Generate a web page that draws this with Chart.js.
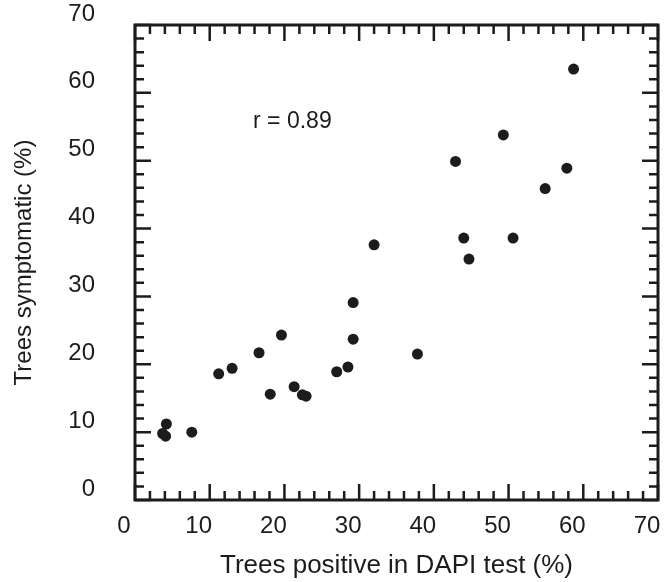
<!DOCTYPE html>
<html>
<head>
<meta charset="utf-8">
<script src="https://cdn.jsdelivr.net/npm/chart.js@4.4.1/dist/chart.umd.min.js"></script>
<style>
  html, body { margin: 0; padding: 0; background: #fff; }
  #wrap { width: 665px; height: 582px; }
</style>
</head>
<body>
<div id="wrap"><canvas id="plot"></canvas></div>
<script>
// % trees positive in DAPI test vs % trees showing symptoms
const dapiPositive = [4.2, 3.7, 4.1, 7.6, 11.2, 13.0, 16.6, 19.6, 18.1, 21.3, 22.4, 22.9, 27.0,
  28.5, 29.2, 29.2, 32.0, 37.8, 42.9, 44.0, 44.7, 49.3, 50.6, 54.9, 57.8, 58.7];
const symptomatic = [11.2, 9.8, 9.4, 10.0, 18.6, 19.4, 21.7, 24.3, 15.6, 16.7, 15.5, 15.3, 18.9,
  19.6, 23.7, 29.1, 37.6, 21.5, 49.9, 38.6, 35.5, 53.8, 38.6, 45.9, 48.9, 63.5];

const axisMin = 0;
const axisMax = 70;
const labelStep = 10;
const minorStep = 2;

const xTitle = 'Trees positive in DAPI test (%)';
const yTitle = 'Trees symptomatic (%)';
const rText = 'r = 0.89';
const rPos = { x: 15.8, y: 55.7 };

const ink = '#1c1c1c';
const font = 'Arial, "Liberation Sans", Helvetica, sans-serif';

const points = dapiPositive.map((x, i) => ({ x: x, y: symptomatic[i] }));

// box frame with inward ticks on all four sides, plus the r label
const framePlugin = {
  id: 'frame',
  afterDraw(chart) {
    const ctx = chart.ctx;
    const a = chart.chartArea;
    const xs = chart.scales.x;
    const ys = chart.scales.y;
    ctx.save();
    ctx.strokeStyle = ink;
    ctx.lineWidth = 2.5;
    for (let v = axisMin; v <= axisMax; v += minorStep) {
      const len = v % labelStep === 0 ? 16 : 9;
      const px = xs.getPixelForValue(v);
      const py = ys.getPixelForValue(v);
      ctx.beginPath();
      ctx.moveTo(px, a.bottom); ctx.lineTo(px, a.bottom - len);
      ctx.moveTo(px, a.top); ctx.lineTo(px, a.top + len);
      ctx.moveTo(a.left, py); ctx.lineTo(a.left + len, py);
      ctx.moveTo(a.right, py); ctx.lineTo(a.right - len, py);
      ctx.stroke();
    }
    ctx.lineWidth = 3;
    ctx.strokeRect(a.left, a.top, a.right - a.left, a.bottom - a.top);

    ctx.fillStyle = ink;
    ctx.font = '23px ' + font;
    ctx.textBaseline = 'middle';
    ctx.textAlign = 'left';
    ctx.fillText(rText, xs.getPixelForValue(rPos.x), ys.getPixelForValue(rPos.y));
    ctx.restore();
  }
};

const ctx = document.getElementById('plot').getContext('2d');
const chart = new Chart(ctx, {
  type: 'scatter',
  data: {
    datasets: [{
      data: points,
      pointRadius: 5.5,
      pointBackgroundColor: ink,
      pointBorderWidth: 0
    }]
  },
  options: {
    responsive: true,
    maintainAspectRatio: false,
    devicePixelRatio: 1,
    animation: false,
    layout: { padding: { left: 0, top: 25, right: 7, bottom: 0 } },
    plugins: {
      legend: { display: false },
      tooltip: { enabled: false }
    },
    scales: {
      x: {
        type: 'linear',
        min: axisMin,
        max: axisMax,
        grid: { display: false, drawTicks: false },
        border: { display: false },
        ticks: {
          stepSize: labelStep,
          color: ink,
          font: { family: font, size: 24 },
          padding: 12,
          labelOffset: -11
        },
        title: {
          display: true,
          text: xTitle,
          color: ink,
          font: { family: font, size: 26 },
          padding: { top: 0, bottom: 1 }
        },
        afterFit(scale) {
          scale.height = 82;
          scale.paddingLeft = 0;
          scale.paddingRight = 0;
        }
      },
      y: {
        type: 'linear',
        min: axisMin,
        max: axisMax,
        grid: { display: false, drawTicks: false },
        border: { display: false },
        ticks: {
          stepSize: labelStep,
          color: ink,
          font: { family: font, size: 24 },
          padding: 40,
          labelOffset: -11
        },
        title: {
          display: true,
          text: yTitle,
          color: ink,
          font: { family: font, size: 24 },
          padding: { top: 10, bottom: 0 }
        },
        afterFit(scale) {
          scale.width = 135;
          scale.paddingTop = 0;
          scale.paddingBottom = 0;
        }
      }
    }
  },
  plugins: [framePlugin]
});
</script>
</body>
</html>
